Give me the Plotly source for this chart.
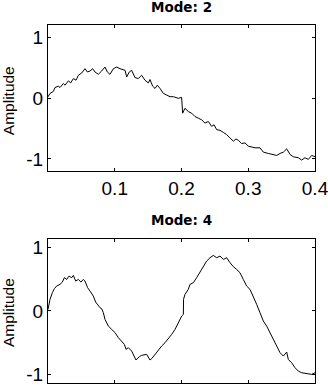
import plotly.graph_objects as go

# Mode 2 signal
mode2_x = [0.000, 0.003, 0.008, 0.0105, 0.0155, 0.018, 0.023, 0.0255, 0.0305, 0.034,
           0.038, 0.042, 0.0455, 0.0505, 0.0554, 0.059, 0.063, 0.067, 0.0704, 0.0754,
           0.0804, 0.0854, 0.0889, 0.0929, 0.0979, 0.1029, 0.1079, 0.1154, 0.1179, 0.1218,
           0.1253, 0.1303, 0.1353, 0.1403, 0.1453, 0.1503, 0.1528, 0.1568, 0.1603, 0.1638,
           0.1678, 0.1728, 0.1778, 0.1828, 0.1878, 0.1953, 0.2002, 0.2017, 0.2052, 0.2102,
           0.2152, 0.2202, 0.2252, 0.2302, 0.2352, 0.2402, 0.2452, 0.2487, 0.2527, 0.2577,
           0.2627, 0.2677, 0.2727, 0.2777, 0.2816, 0.2851, 0.2901, 0.2951, 0.3001, 0.3051,
           0.3101, 0.3176, 0.3226, 0.3301, 0.3376, 0.3426, 0.3476, 0.3526, 0.3576, 0.3626,
           0.3675, 0.3750, 0.3800, 0.3850, 0.3900, 0.3950, 0.4000]
mode2_y = [0.02, 0.076, 0.108, 0.173, 0.195, 0.173, 0.238, 0.211, 0.282, 0.249,
           0.320, 0.293, 0.374, 0.412, 0.482, 0.428, 0.444, 0.482, 0.428, 0.390,
           0.444, 0.509, 0.428, 0.390, 0.482, 0.509, 0.482, 0.455, 0.347, 0.428,
           0.455, 0.336, 0.320, 0.374, 0.293, 0.249, 0.304, 0.195, 0.157, 0.211,
           0.157, 0.076, 0.049, 0.022, 0.022, -0.005, 0.011, -0.249, -0.168, -0.222,
           -0.249, -0.304, -0.331, -0.358, -0.412, -0.385, -0.466, -0.439, -0.520, -0.531,
           -0.564, -0.602, -0.656, -0.710, -0.672, -0.694, -0.748, -0.737, -0.791, -0.802,
           -0.818, -0.818, -0.889, -0.911, -0.927, -0.943, -0.911, -0.889, -0.835, -0.927,
           -0.965, -0.981, -1.019, -0.981, -1.008, -0.943, -0.965]

# Mode 4 signal
mode4_x = [0.000, 0.001, 0.003, 0.0065, 0.0095, 0.013, 0.018, 0.0215, 0.0245, 0.028,
           0.0315, 0.0355, 0.038, 0.0415, 0.0455, 0.0494, 0.0529, 0.0554, 0.0594, 0.0629,
           0.0679, 0.0714, 0.0754, 0.0779, 0.0804, 0.0829, 0.0854, 0.0879, 0.0904, 0.0954,
           0.1004, 0.1054, 0.1104, 0.1144, 0.1169, 0.1204, 0.1254, 0.1278, 0.1318, 0.1368,
           0.1403, 0.1478, 0.1528, 0.1553, 0.1603, 0.1653, 0.1703, 0.1753, 0.1803, 0.1853,
           0.1903, 0.1953, 0.2003, 0.2028, 0.2030, 0.2052, 0.2102, 0.2127, 0.2177, 0.2227,
           0.2277, 0.2327, 0.2377, 0.2427, 0.2477, 0.2527, 0.2577, 0.2627, 0.2677, 0.2727,
           0.2777, 0.2826, 0.2876, 0.2926, 0.2976, 0.3026, 0.3076, 0.3126, 0.3176, 0.3226,
           0.3276, 0.3326, 0.3376, 0.3426, 0.3476, 0.3526, 0.3576, 0.3600, 0.3650, 0.3700,
           0.3750, 0.3800, 0.3875, 0.3950, 0.4000]
mode4_y = [0.023, 0.075, 0.180, 0.285, 0.348, 0.389, 0.415, 0.451, 0.520, 0.493,
           0.545, 0.520, 0.556, 0.467, 0.493, 0.451, 0.493, 0.467, 0.363, 0.311,
           0.232, 0.138, 0.075, 0.050, 0.034, -0.028, -0.133, -0.185, -0.238, -0.290,
           -0.341, -0.420, -0.473, -0.525, -0.603, -0.577, -0.630, -0.681, -0.770, -0.718,
           -0.697, -0.681, -0.770, -0.749, -0.681, -0.603, -0.551, -0.499, -0.436, -0.368,
           -0.290, -0.185, -0.081, -0.055, 0.180, 0.258, 0.337, 0.415, 0.441, 0.520,
           0.608, 0.702, 0.781, 0.833, 0.869, 0.833, 0.859, 0.807, 0.833, 0.755,
           0.692, 0.650, 0.598, 0.493, 0.389, 0.337, 0.232, 0.102, -0.029, -0.159,
           -0.238, -0.342, -0.446, -0.551, -0.655, -0.708, -0.645, -0.760, -0.812, -0.890,
           -0.943, -0.969, -0.979, -0.995, -0.969]

titles = ["Mode: 2", "Mode: 4"]
y_label = "Amplitude"
x_ticks = [0.1, 0.2, 0.3, 0.4]
y_ticks = [-1, 0, 1]

fig = go.Figure()
fig.add_trace(go.Scatter(x=mode2_x, y=mode2_y, mode="lines",
                         line=dict(color="black", width=1), xaxis="x", yaxis="y",
                         showlegend=False))
fig.add_trace(go.Scatter(x=mode4_x, y=mode4_y, mode="lines",
                         line=dict(color="black", width=1), xaxis="x2", yaxis="y2",
                         showlegend=False))

tickfont = dict(family="Liberation Sans, Arial", size=19, color="black")
axis_common = dict(showline=True, linecolor="black", linewidth=1, mirror="ticks",
                   ticks="inside", ticklen=3, tickcolor="black", showgrid=False,
                   zeroline=False, tickfont=tickfont, ticklabeloverflow="allow",
                   automargin=False)

fig.update_layout(
    width=328, height=385,
    margin=dict(l=48, r=13, t=25, b=2),
    paper_bgcolor="white", plot_bgcolor="white",
    xaxis=dict(domain=[0, 1], range=[0, 0.4], tickvals=x_ticks,
               ticktext=[f"{v:.1f}" for v in x_ticks], anchor="y", **axis_common),
    yaxis=dict(domain=[0.592, 1], range=[-1.2, 1.2], tickvals=y_ticks,
               ticktext=[str(v) for v in y_ticks], anchor="x", **axis_common),
    xaxis2=dict(domain=[0, 1], range=[0, 0.4], tickvals=x_ticks, showticklabels=False,
                anchor="y2", **axis_common),
    yaxis2=dict(domain=[0, 0.402], range=[-1.13, 1.125], tickvals=y_ticks,
                ticktext=[str(v) for v in y_ticks], anchor="x2", **axis_common),
)

title_font = dict(family="DejaVu Sans", size=13.5, color="black")
fig.add_annotation(text="<b>" + titles[0] + "</b>", xref="paper", yref="paper",
                   x=0.5, y=1.049, xanchor="center", yanchor="middle",
                   showarrow=False, font=title_font)
fig.add_annotation(text="<b>" + titles[1] + "</b>", xref="paper", yref="paper",
                   x=0.5, y=0.455, xanchor="center", yanchor="middle",
                   showarrow=False, font=title_font)

label_font = dict(family="Liberation Sans, Arial", size=15.5, color="black")
fig.add_annotation(text=y_label, xref="paper", yref="paper", x=-0.145, y=0.788,
                   xanchor="center", yanchor="middle", textangle=-90,
                   showarrow=False, font=label_font, borderpad=0)
fig.add_annotation(text=y_label, xref="paper", yref="paper", x=-0.145, y=0.196,
                   xanchor="center", yanchor="middle", textangle=-90,
                   showarrow=False, font=label_font, borderpad=0)

fig.write_html("out.html",
               config={"displayModeBar": False},
               post_script="document.body.style.margin='0';document.body.style.padding='0';")
